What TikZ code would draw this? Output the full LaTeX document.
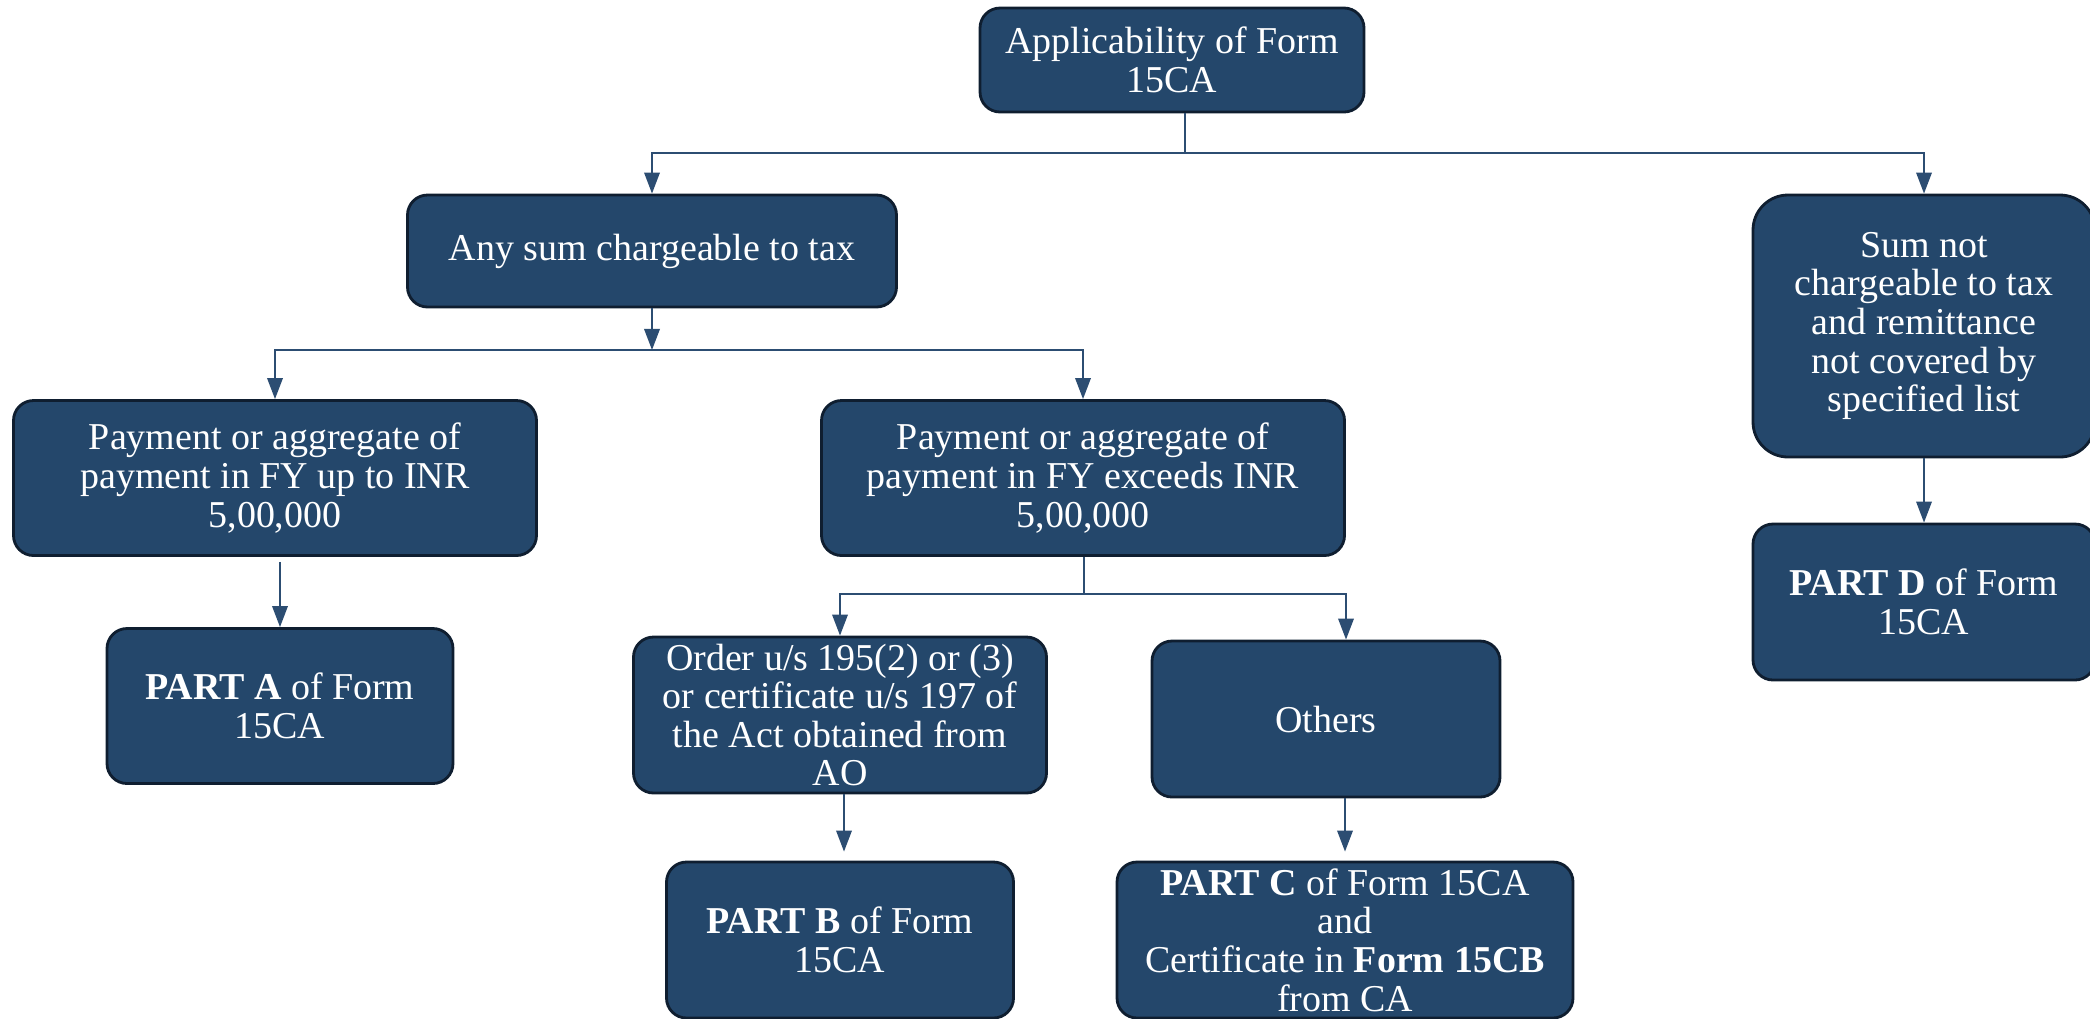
\documentclass[tikz,border=0pt]{standalone}
\usepackage{fontspec}
\setmainfont{Liberation Serif}
\usepackage{tikz}
\usetikzlibrary{arrows.meta}
\definecolor{boxblue}{HTML}{24476B}
\definecolor{boxedge}{HTML}{0F1E30}
\definecolor{lineblue}{HTML}{2C4D72}
\tikzstyle{process} = [rectangle, rounded corners=0.2cm, align=center, inner sep=0pt, draw=boxedge, line width=0.8pt, fill=boxblue, text=white, font=\fontsize{10.8}{11}\selectfont]
\tikzstyle{line} = [draw=lineblue, line width=0.5pt]
\tikzstyle{arrow} = [draw=lineblue, line width=0.6pt, -{Triangle[width=4.4pt,length=6pt]}]

\begin{document}
\begin{tikzpicture}
        \useasboundingbox (0,0) rectangle (20.9,-10.18);
        \node (app) [process, minimum width=3.84cm, minimum height=1.04cm] at (11.72,-0.60) {Applicability of Form\\15CA};
        \node (chg) [process, minimum width=4.89cm, minimum height=1.12cm] at (6.52,-2.51) {Any sum chargeable to tax};
        \node (notchg) [process, rounded corners=0.35cm, minimum width=3.42cm, minimum height=2.62cm] at (19.24,-3.26) {Sum not\\chargeable to tax\\and remittance\\not covered by\\specified list};
        \coordinate (fork1) at (11.85,-1.53);
        \draw [line] (fork1 |- app.south) -- (fork1);
        \draw [arrow] (fork1) -| (chg.north);
        \draw [arrow] (fork1) -| (notchg.north);
        \node (upto) [process, minimum width=5.23cm, minimum height=1.55cm] at (2.75,-4.78) {Payment or aggregate of\\payment in FY up to INR\\5,00,000};
        \node (exceed) [process, minimum width=5.23cm, minimum height=1.55cm] at (10.83,-4.78) {Payment or aggregate of\\payment in FY exceeds INR\\5,00,000};
        \coordinate (fork2) at (6.52,-3.50);
        \draw [arrow] (chg) -- (fork2);
        \draw [arrow] (fork2) -| (upto.north);
        \draw [arrow] (fork2) -| (exceed.north);
        \node (parta) [process, minimum width=3.46cm, minimum height=1.55cm] at (2.80,-7.06) {\textbf{PART A} of Form\\15CA};
        \draw [arrow] ([yshift=-0.05cm]upto.south -| parta.north) -- (parta.north);
        \node (order) [process, minimum width=4.13cm, minimum height=1.56cm] at (8.40,-7.15) {Order u/s 195(2) or (3)\\or certificate u/s 197 of\\the Act obtained from\\AO};
        \node (others) [process, minimum width=3.48cm, minimum height=1.56cm] at (13.26,-7.19) {Others};
        \coordinate (fork3) at (10.84,-5.94);
        \draw [line] (fork3 |- exceed.south) -- (fork3);
        \draw [arrow] (fork3) -| (order.north);
        \draw [arrow] (fork3) -| ([xshift=0.2cm]others.north);
        \node (partb) [process, minimum width=3.47cm, minimum height=1.56cm] at (8.40,-9.40) {\textbf{PART B} of Form\\15CA};
        \draw [arrow] ([xshift=0.04cm]order.south) -- ([xshift=0.04cm, yshift=0.09cm]partb.north);
        \node (partc) [process, minimum width=4.56cm, minimum height=1.56cm] at (13.45,-9.40) {\textbf{PART C} of Form 15CA\\and\\Certificate in \textbf{Form 15CB}\\from CA};
        \draw [arrow] (partc.north |- others.south) -- ([yshift=0.09cm]partc.north);
        \node (partd) [process, minimum width=3.42cm, minimum height=1.56cm] at (19.24,-6.02) {\textbf{PART D} of Form\\15CA};
        \draw [arrow] (notchg) -- (partd);
    \end{tikzpicture}
\end{document}
